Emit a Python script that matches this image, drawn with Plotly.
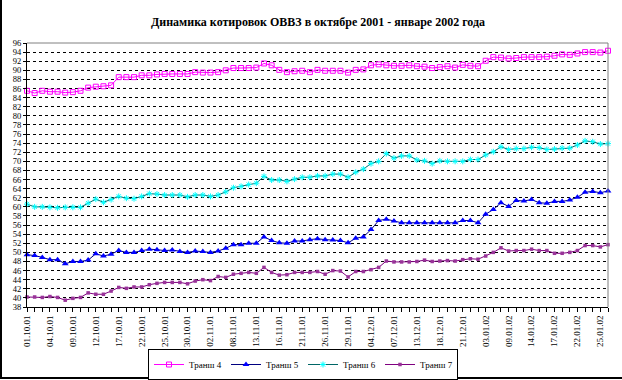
import plotly.graph_objects as go

dates = [
    "01.10.01", "02.10.01", "03.10.01", "04.10.01", "05.10.01", "08.10.01", "09.10.01", "10.10.01",
    "11.10.01", "12.10.01", "15.10.01", "16.10.01", "17.10.01", "18.10.01", "19.10.01", "22.10.01",
    "23.10.01", "24.10.01", "25.10.01", "26.10.01", "29.10.01", "30.10.01", "31.10.01", "01.11.01",
    "02.11.01", "05.11.01", "06.11.01", "08.11.01", "09.11.01", "12.11.01", "13.11.01", "14.11.01",
    "15.11.01", "16.11.01", "19.11.01", "20.11.01", "21.11.01", "22.11.01", "23.11.01", "26.11.01",
    "27.11.01", "28.11.01", "29.11.01", "30.11.01", "03.12.01", "04.12.01", "05.12.01", "06.12.01",
    "07.12.01", "10.12.01", "11.12.01", "13.12.01", "14.12.01", "17.12.01", "18.12.01", "19.12.01",
    "20.12.01", "21.12.01", "24.12.01", "27.12.01", "03.01.02", "04.01.02", "08.01.02", "09.01.02",
    "10.01.02", "11.01.02", "14.01.02", "15.01.02", "16.01.02", "17.01.02", "18.01.02", "21.01.02",
    "22.01.02", "23.01.02", "24.01.02", "25.01.02", "28.01.02",
]

tranche4 = [
    85.5, 85.0, 85.5, 85.3, 85.3, 85.1, 85.2, 85.5, 86.2, 86.4,
    86.5, 86.7, 88.5, 88.5, 88.5, 88.9, 88.9, 89.1, 89.2, 89.2,
    89.2, 89.2, 89.6, 89.5, 89.5, 89.6, 90.0, 90.5, 90.5, 90.5,
    90.6, 91.5, 91.1, 90.1, 89.6, 89.8, 89.9, 89.6, 90.1, 89.9,
    89.9, 89.9, 89.5, 90.1, 90.2, 91.1, 91.3, 91.1, 91.0, 91.0,
    91.1, 90.9, 90.8, 90.5, 90.7, 90.9, 90.6, 91.2, 91.0, 90.9,
    92.1, 92.9, 92.8, 92.6, 92.7, 92.9, 92.9, 92.9, 93.0, 93.2,
    93.5, 93.4, 93.7, 94.0, 94.0, 93.9, 94.3,
]

tranche5 = [
    49.5, 49.3, 48.9, 48.4, 48.4, 47.5, 48.0, 48.0, 48.3, 49.7,
    49.2, 49.6, 50.4, 50.0, 50.0, 50.4, 50.7, 50.6, 50.4, 50.5,
    50.2, 50.0, 50.3, 50.2, 50.0, 50.3, 50.9, 51.7, 51.7, 52.0,
    52.0, 53.4, 52.6, 52.1, 52.0, 52.5, 52.5, 52.8, 53.0, 52.8,
    52.7, 52.6, 52.1, 53.1, 53.4, 55.0, 57.0, 57.3, 56.9, 56.5,
    56.5, 56.5, 56.5, 56.5, 56.5, 56.5, 56.5, 57.0, 57.0, 56.5,
    58.4, 59.4, 60.9, 60.1, 61.4, 61.3, 61.6, 60.9, 60.8, 61.2,
    61.2, 61.5, 62.1, 63.2, 63.4, 63.1, 63.5,
]

tranche6 = [
    60.6, 60.0, 60.0, 59.9, 59.8, 59.9, 59.9, 59.9, 60.8, 61.7,
    61.0, 61.6, 62.3, 61.9, 61.8, 62.3, 62.9, 62.8, 62.6, 62.6,
    62.6, 62.2, 62.6, 62.6, 62.3, 62.6, 63.3, 64.2, 64.5, 64.9,
    65.2, 66.7, 65.9, 65.9, 65.6, 66.1, 66.5, 66.5, 66.8, 66.8,
    67.2, 67.2, 66.5, 67.6, 68.3, 69.5, 70.0, 71.7, 70.7, 71.2,
    71.2, 70.3, 70.1, 69.5, 70.1, 70.0, 70.0, 70.0, 70.4, 70.4,
    71.4, 72.1, 73.2, 72.6, 72.8, 72.8, 73.1, 73.0, 72.6, 72.7,
    72.9, 72.9, 73.6, 74.5, 74.3, 73.8, 73.9,
]

tranche7 = [
    40.2, 40.2, 40.1, 40.3, 40.1, 39.5, 39.9, 40.1, 41.1, 40.8,
    40.8, 41.5, 42.3, 42.1, 42.4, 42.4, 42.9, 43.2, 43.4, 43.4,
    43.4, 43.1, 43.7, 44.0, 43.8, 44.7, 44.5, 45.2, 45.4, 45.6,
    45.4, 46.7, 45.6, 45.0, 45.1, 45.6, 45.6, 45.6, 45.8, 45.2,
    46.0, 45.9, 44.6, 45.8, 45.8, 46.2, 46.7, 48.1, 47.9, 47.9,
    47.9, 48.0, 48.3, 48.0, 48.1, 48.2, 48.1, 48.4, 48.6, 48.5,
    49.2, 50.0, 51.0, 50.3, 50.4, 50.4, 50.7, 50.4, 50.4, 49.8,
    49.8, 50.0, 50.4, 51.5, 51.5, 51.2, 51.7,
]

series_names = ["Транш 4", "Транш 5", "Транш 6", "Транш 7"]
title_text = "Динамика котировок ОВВЗ в октябре 2001 - январе 2002 года"

x_idx = list(range(len(dates)))
label_step = 3
tick_positions = x_idx[::label_step]
tick_labels = dates[::label_step]

FONT = "Liberation Serif, Times New Roman, serif"

styles = [
    dict(line=dict(color="#FF00FF", width=1),
         marker=dict(symbol="square-open", size=5, color="#FF00FF", line=dict(width=1, color="#FF00FF"))),
    dict(line=dict(color="#000080", width=1),
         marker=dict(symbol="triangle-up", size=6, color="#0000FF", line=dict(width=0))),
    dict(line=dict(color="#006666", width=1),
         marker=dict(symbol="asterisk-open", size=5, color="#00FFFF", line=dict(width=1, color="#00FFFF"))),
    dict(line=dict(color="#800080", width=1),
         marker=dict(symbol="square", size=3.5, color="#993399", line=dict(width=0))),
]

fig = go.Figure()
for name, vals, st in zip(series_names, [tranche4, tranche5, tranche6, tranche7], styles):
    fig.add_trace(go.Scatter(
        x=x_idx, y=vals, name=name, mode="lines+markers",
        line=st["line"], marker=st["marker"], cliponaxis=False,
    ))

W, H = 622, 380
fig.update_layout(
    width=W, height=H, autosize=False,
    margin=dict(l=27, r=14, t=43, b=73, autoexpand=False),
    paper_bgcolor="white", plot_bgcolor="white",
    font=dict(family=FONT, size=9, color="black"),
    title=dict(text="<b>" + title_text + "</b>", x=318 / W, xanchor="center",
               y=1 - 22 / H, yanchor="middle",
               font=dict(family=FONT, size=12, color="black")),
    showlegend=True,
    legend=dict(orientation="h", xref="container", yref="container",
                x=303 / W, xanchor="center", y=1 - 349 / H, yanchor="top",
                bordercolor="black", borderwidth=1, bgcolor="white",
                font=dict(family=FONT, size=9), itemwidth=30,
                tracegroupgap=0, entrywidth=32),
)

fig.update_xaxes(
    range=[0, len(dates) - 1], tickmode="array", tickvals=tick_positions, ticktext=tick_labels,
    tickangle=-90, tickfont=dict(family=FONT, size=9), automargin=False,
    showgrid=False, zeroline=False, showline=True, linecolor="black", linewidth=1,
    ticks="outside", ticklen=4, tickcolor="black",
    minor=dict(dtick=1, ticks="outside", ticklen=4, tickcolor="black", showgrid=False),
)
fig.update_yaxes(
    range=[38, 96], dtick=2, tick0=38, tickfont=dict(family=FONT, size=8.5), automargin=False,
    showgrid=True, gridcolor="black", gridwidth=1, griddash="3px,3px",
    zeroline=False, showline=True, linecolor="black", linewidth=1,
    ticks="outside", ticklen=3, tickcolor="black",
)

fig.add_shape(type="line", xref="paper", yref="paper", x0=0, x1=1, y0=1, y1=1,
              line=dict(color="#808080", width=1))
fig.add_shape(type="line", xref="paper", yref="paper", x0=1, x1=1, y0=0, y1=1,
              line=dict(color="#808080", width=1))
# chart border (left and bottom edges of the chart area)
fig.add_shape(type="line", xref="paper", yref="paper", x0=-26 / 581, x1=-26 / 581,
              y0=-72 / 264, y1=1 + 43 / 264, line=dict(color="black", width=2))
fig.add_shape(type="line", xref="paper", yref="paper", x0=-27 / 581, x1=1 + 14 / 581,
              y0=-71 / 264, y1=-71 / 264, line=dict(color="black", width=2))

fig.write_html(
    "out.html",
    config={"displayModeBar": False, "responsive": False},
    post_script="document.documentElement.style.margin='0';document.body.style.margin='0';",
)
